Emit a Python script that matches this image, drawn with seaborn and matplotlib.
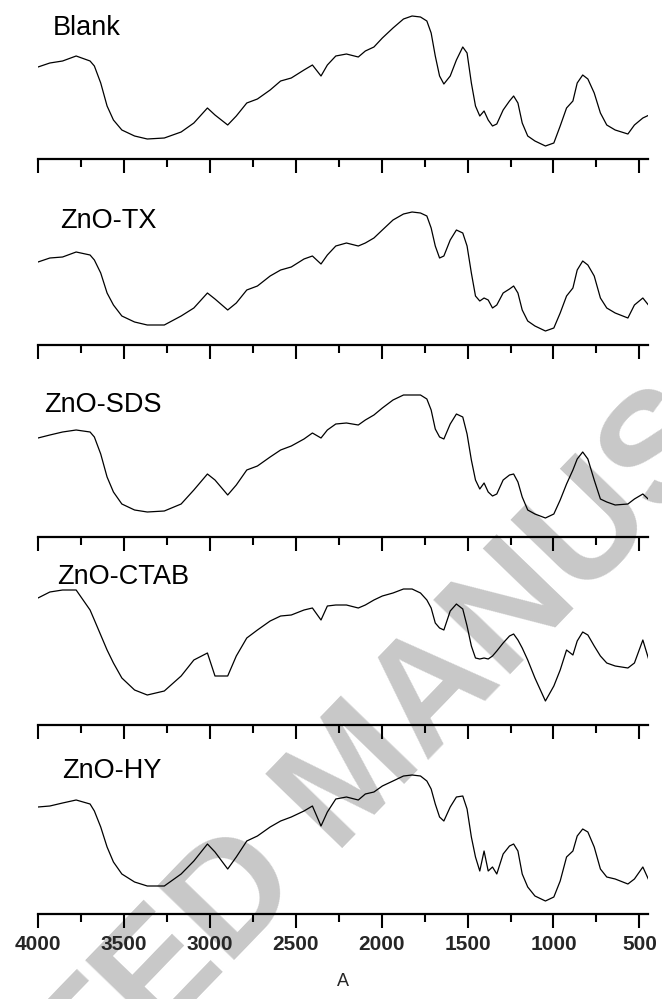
import numpy as np
import pandas as pd
import matplotlib
matplotlib.use("Agg")
import matplotlib.pyplot as plt
from matplotlib.ticker import MultipleLocator
import seaborn as sns

# FTIR spectra (intensity in arbitrary units)
wavenumber = [4000, 3931, 3857, 3778, 3697, 3672, 3635, 3598, 3561, 3512,
              3438, 3364, 3265, 3167, 3093, 3014, 2970, 2896, 2846, 2785,
              2723, 2649, 2588, 2526, 2452, 2403, 2353, 2316, 2267, 2205,
              2136, 2095, 2045, 1996, 1934, 1873, 1823, 1774, 1737, 1712,
              1688, 1663, 1638, 1601, 1565, 1528, 1503, 1478, 1454, 1429,
              1404, 1380, 1355, 1330, 1293, 1256, 1232, 1207, 1182, 1150,
              1108, 1047, 998, 961, 924, 887, 862, 830, 800, 763,
              727, 690, 641, 567, 529, 480, 443]

blank = [92, 96, 98, 103, 98, 93, 76, 53, 39, 29,
         23, 20, 21, 27, 36, 51, 44, 34, 43, 56,
         60, 69, 78, 81, 89, 94, 83, 94, 103, 105,
         102, 108, 112, 121, 131, 140, 143, 142, 138, 126,
         103, 83, 75, 83, 99, 112, 106, 76, 53, 43,
         48, 39, 33, 35, 49, 58, 63, 56, 36, 23,
         18, 13, 16, 33, 51, 58, 76, 84, 80, 66,
         46, 34, 29, 25, 34, 41, 44]

zno_tx = [83, 87, 88, 93, 90, 85, 72, 52, 40, 29,
          23, 20, 20, 29, 37, 52, 46, 35, 42, 55,
          59, 69, 75, 78, 86, 89, 81, 90, 99, 102,
          99, 102, 107, 115, 125, 131, 133, 132, 129, 117,
          99, 87, 89, 105, 115, 112, 99, 72, 49, 44,
          47, 45, 37, 40, 52, 56, 59, 52, 35, 24,
          19, 14, 17, 32, 49, 57, 75, 84, 80, 69,
          47, 37, 32, 27, 40, 47, 39]

zno_sds = [99, 102, 105, 107, 105, 100, 83, 60, 45, 33,
           27, 25, 26, 33, 47, 63, 57, 42, 52, 67,
           71, 80, 87, 91, 98, 104, 99, 107, 113, 114,
           112, 117, 122, 129, 137, 142, 142, 142, 138, 127,
           108, 100, 98, 113, 123, 120, 103, 77, 57, 48,
           54, 45, 41, 43, 57, 62, 63, 55, 40, 27,
           23, 19, 23, 37, 53, 67, 78, 85, 78, 57,
           38, 35, 32, 33, 38, 43, 37]

zno_ctab = [127, 133, 135, 135, 115, 105, 90, 75, 62, 47,
            35, 30, 34, 49, 65, 72, 49, 49, 69, 87,
            95, 104, 109, 110, 115, 117, 105, 119, 120, 120,
            117, 120, 125, 129, 132, 136, 136, 132, 125, 117,
            102, 97, 95, 114, 121, 116, 99, 79, 67, 66,
            67, 66, 69, 74, 82, 89, 91, 85, 77, 65,
            47, 24, 39, 55, 75, 70, 84, 93, 90, 79,
            69, 62, 59, 57, 62, 85, 64]

zno_hy = [107, 108, 111, 114, 110, 103, 87, 67, 52, 40,
          32, 28, 28, 40, 53, 70, 62, 45, 57, 73,
          78, 87, 93, 97, 103, 108, 88, 102, 115, 117,
          114, 120, 122, 128, 133, 138, 139, 138, 133, 125,
          110, 97, 93, 107, 117, 118, 105, 77, 57, 43,
          63, 43, 47, 40, 60, 68, 70, 63, 40, 27,
          18, 13, 17, 33, 57, 63, 78, 85, 82, 67,
          45, 37, 35, 30, 35, 47, 33]

samples = ["Blank", "ZnO-TX", "ZnO-SDS", "ZnO-CTAB", "ZnO-HY"]
spectra = [blank, zno_tx, zno_sds, zno_ctab, zno_hy]

sns.set_theme(style="white")
plt.rcParams['font.family'] = ['Liberation Sans', 'DejaVu Sans']

W, H = 662, 999
fig = plt.figure(figsize=(W / 100, H / 100), dpi=100)

# watermark behind the plots
fig.text(0.535, 0.222, "ACCEPTED MANUSCRIPT", rotation=46, fontsize=112,
         fontweight="bold", color="#c8c8c8", ha="center", va="center",
         rotation_mode="anchor", zorder=-1)

axis_rows = [159, 345, 537, 725, 914]       # pixel row of each x axis line
label_x = [53, 60, 44, 57, 62]              # pixel column of each sample name
label_h = [131, 124, 132, 148, 143]         # height of name above axis line
panel_h = 150
left, right = 38, 648

for i, (name, vals) in enumerate(zip(samples, spectra)):
    ax = fig.add_axes([left / W, 1 - axis_rows[i] / H,
                       (right - left) / W, panel_h / H])
    ax.set_facecolor("none")
    df = pd.DataFrame({"wavenumber": wavenumber, "intensity": vals})
    sns.lineplot(data=df, x="wavenumber", y="intensity", ax=ax,
                 color="black", linewidth=0.9)
    ax.set_xlim(4000, 450)
    ax.set_ylim(0, panel_h)
    for s in ["top", "left", "right"]:
        ax.spines[s].set_visible(False)
    ax.spines["bottom"].set_linewidth(1.6)
    ax.spines["bottom"].set_color("black")
    ax.xaxis.set_major_locator(MultipleLocator(500))
    ax.xaxis.set_minor_locator(MultipleLocator(250))
    ax.tick_params(axis="x", which="major", direction="out", length=10,
                   width=1.5, color="black", bottom=True)
    ax.tick_params(axis="x", which="minor", direction="out", length=5.5,
                   width=1.5, color="black", bottom=True)
    ax.set_yticks([])
    ax.set_ylabel("")
    ax.set_xlabel("")
    ax.text((label_x[i] - left) / (right - left), label_h[i], name,
            transform=ax.get_yaxis_transform(), fontsize=19.5,
            ha="left", va="center", color="black")
    if i < len(samples) - 1:
        ax.tick_params(axis="x", labelbottom=False)
    else:
        ax.tick_params(axis="x", labelsize=15, pad=5)
        for t in ax.get_xticklabels():
            t.set_fontweight("bold")
        ax.set_xlabel("A", fontsize=13, labelpad=14)

fig.savefig("out.png", dpi=100)
